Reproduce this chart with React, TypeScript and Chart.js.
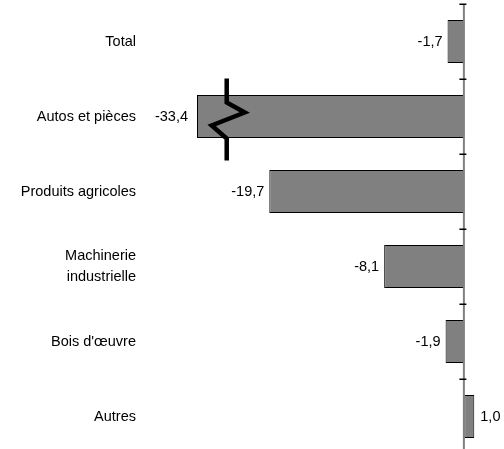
import React, { useEffect, useRef } from "react";
import { Chart, registerables } from "chart.js";

Chart.register(...registerables);

const categories: (string | string[])[] = [
  "Total",
  "Autos et pièces",
  "Produits agricoles",
  ["Machinerie", "industrielle"],
  "Bois d'œuvre",
  "Autres",
];
const values: number[] = [-1.7, -33.4, -19.7, -8.1, -1.9, 1.0];
const valueLabels: string[] = ["-1,7", "-33,4", "-19,7", "-8,1", "-1,9", "1,0"];
const axisMin = -27;
const axisMax = 4;
const breakValue = -24;
const breakIndex = 1;

const FONT = "'Liberation Sans', Arial, sans-serif";
const FONT_SIZE = 14.5;

const decorPlugin = {
  id: "decor",
  afterDatasetsDraw(chart: any) {
    const { ctx, chartArea, scales } = chart;
    const x = scales.x;
    const y = scales.y;
    const meta = chart.getDatasetMeta(0);
    const zero = x.getPixelForValue(0);
    ctx.save();
    // left border for clipped bars
    meta.data.forEach((bar: any, i: number) => {
      if (values[i] < axisMin) {
        const h = bar.height;
        ctx.fillStyle = "#000";
        ctx.fillRect(chartArea.left, bar.y - h / 2, 1, h);
      }
    });
    // zero axis
    ctx.fillStyle = "#808080";
    ctx.fillRect(zero - 1.5, chartArea.top, 2, chartArea.bottom - chartArea.top + 10);
    // ticks at category boundaries
    ctx.fillStyle = "#000";
    const n = categories.length;
    const step = (chartArea.bottom - chartArea.top) / n;
    for (let i = 0; i <= n; i++) {
      const yy = Math.round(chartArea.top + i * step);
      ctx.fillRect(zero - 5, yy - 0.5, 7, 1.5);
    }
    // value labels
    ctx.font = `${FONT_SIZE}px ${FONT}`;
    ctx.fillStyle = "#000";
    ctx.textBaseline = "middle";
    meta.data.forEach((bar: any, i: number) => {
      const v = values[i];
      if (v < 0) {
        const clipped = v < axisMin;
        const bx = clipped ? chartArea.left : bar.x;
        ctx.textAlign = "right";
        ctx.fillText(valueLabels[i], bx - (clipped ? 9 : 5), bar.y);
      } else {
        ctx.textAlign = "left";
        ctx.fillText(valueLabels[i], bar.x + 6, bar.y);
      }
    });
    // break symbol
    const bx = x.getPixelForValue(breakValue);
    const by = y.getPixelForValue(breakIndex);
    ctx.strokeStyle = "#000";
    ctx.lineWidth = 4.5;
    ctx.lineJoin = "miter";
    ctx.beginPath();
    ctx.moveTo(bx, by - 38);
    ctx.lineTo(bx, by - 14);
    ctx.lineTo(bx + 18, by - 4);
    ctx.lineTo(bx - 15, by + 9);
    ctx.lineTo(bx, by + 22);
    ctx.lineTo(bx, by + 44);
    ctx.stroke();
    ctx.restore();
  },
};

export default function App() {
  const ref = useRef<HTMLCanvasElement | null>(null);
  useEffect(() => {
    if (!ref.current) return;
    const chart = new Chart(ref.current, {
      type: "bar",
      data: {
        labels: categories,
        datasets: [
          {
            data: values,
            backgroundColor: "#808080",
            borderColor: "#000",
            borderWidth: 1,
            borderSkipped: false,
            barPercentage: 0.573,
            categoryPercentage: 1,
            clip: 0,
          } as any,
        ],
      },
      options: {
        indexAxis: "y",
        animation: false,
        responsive: false,
        maintainAspectRatio: false,
        layout: { padding: { top: 4, bottom: 0, left: 0, right: 0 } },
        plugins: { legend: { display: false }, tooltip: { enabled: false } },
        scales: {
          x: {
            display: false,
            min: axisMin,
            max: axisMax,
          },
          y: {
            grid: { display: false, drawTicks: false },
            border: { display: false },
            ticks: {
              color: "#000",
              padding: 61,
              font: { family: FONT, size: FONT_SIZE, lineHeight: 1.38 },
            },
            afterFit(scale: any) {
              scale.width = 197;
              scale.paddingTop = 0;
              scale.paddingBottom = 0;
            },
          },
        },
      },
      plugins: [decorPlugin],
    });
    return () => chart.destroy();
  }, []);
  return (
    <div style={{ position: "fixed", left: 0, top: 0, width: 504, height: 449, overflow: "hidden", background: "#fff" }}>
      <canvas ref={ref} width={504} height={454} style={{ display: "block" }} />
    </div>
  );
}
